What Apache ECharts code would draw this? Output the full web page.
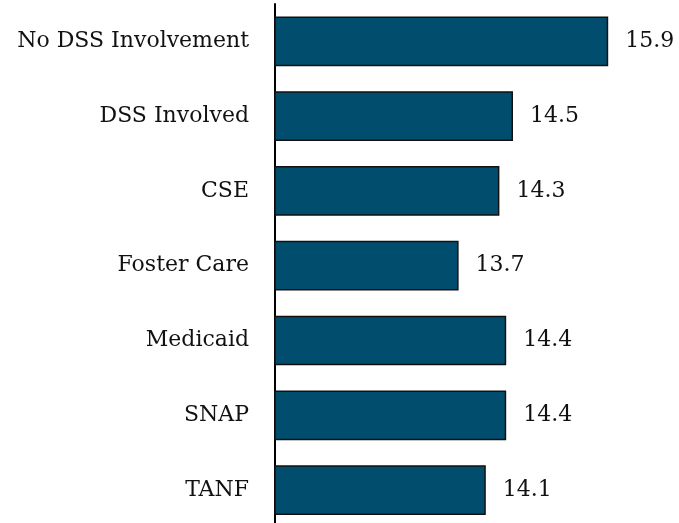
<!DOCTYPE html>
<html><head><meta charset="utf-8">
<script src="https://cdn.jsdelivr.net/npm/echarts@6/dist/echarts.min.js"></script>
<style>html,body{margin:0;padding:0;background:#fff;overflow:hidden}#c{width:679px;height:528px}</style>
</head><body><div id="c"></div>
<script>
const categories = ["No DSS Involvement","DSS Involved","CSE","Foster Care","Medicaid","SNAP","TANF"];
const values = [15.9,14.5,14.3,13.7,14.4,14.4,14.1];
const FONT = "DejaVu Serif";
const chart = echarts.init(document.getElementById('c'));
chart.setOption({
  animation:false,
  grid:{left:275,top:3.9,width:340,bottom:0.5},
  xAxis:{type:'value',min:11,max:16,show:false},
  yAxis:{type:'category',data:categories,inverse:true,
    axisLine:{lineStyle:{color:'#000',width:2}},
    axisTick:{show:false},
    axisLabel:{fontFamily:FONT,fontSize:22,color:'#111',margin:26}},
  series:[{type:'bar',data:values,barCategoryGap:'33.5%',
    itemStyle:{color:'#014D6E',borderColor:'#111',borderWidth:1.5},
    label:{show:true,position:'right',distance:17,fontFamily:FONT,fontSize:22,color:'#111',formatter:p=>p.value.toFixed(1)}}]
});
</script></body></html>
